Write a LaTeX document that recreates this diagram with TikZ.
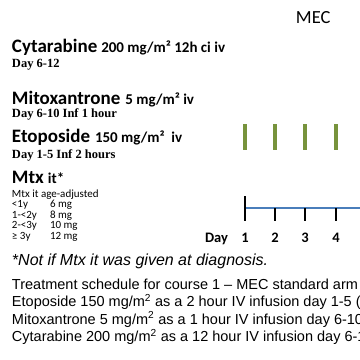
\documentclass[tikz,border=0pt]{standalone}
\usepackage{fontspec}
\setmainfont{Carlito}
\newfontfamily\timesf{Liberation Serif}
\newfontfamily\arialf{Liberation Sans}
\begin{document}
\begin{tikzpicture}[x=1pt,y=-1pt,
  every node/.style={inner sep=0pt,outer sep=0pt},
  drug/.style={anchor=base west,font=\fontsize{19}{21}\selectfont\bfseries},
  dose/.style={anchor=base west,font=\fontsize{15}{17}\selectfont\bfseries},
  dayline/.style={anchor=base west,font=\fontsize{12.5}{14}\timesf\bfseries},
  small/.style={anchor=base west,font=\fontsize{11}{12}\selectfont},
  daylab/.style={anchor=base,font=\fontsize{14.5}{16}\selectfont\bfseries},
  body/.style={anchor=base west,font=\fontsize{14.5}{17}\arialf},
  bar/.style={draw=etogreen,line width=4pt},
  tick/.style={draw=black,line width=1.6pt},
  axis/.style={draw=axisblue,line width=1.8pt}]
\definecolor{etogreen}{HTML}{77933C}
\definecolor{axisblue}{HTML}{4A7EBB}
\useasboundingbox (0,0) rectangle (360,360);
\clip (0,0) rectangle (360,360);
\node[anchor=base west,font=\fontsize{18.5}{20}\selectfont] (mec) at (296,23) {MEC};
\node[drug] (cyt) at (12,52) {Cytarabine};
\node[dose] (cytd) at ([xshift=4pt]cyt.base east) {200 mg/m² 12h ci iv};
\node[dayline] (cytday) at (12,67) {Day 6-12};
\node[drug] (mit) at (12,104.5) {Mitoxantrone};
\node[dose] (mitd) at ([xshift=5pt]mit.base east) {5 mg/m² iv};
\node[dayline] (mitday) at (12,117.5) {Day 6-10 Inf 1 hour};
\node[drug] (eto) at (12,142.5) {Etoposide};
\node[dose] (etod) at ([xshift=5pt]eto.base east) {150 mg/m²\ \ iv};
\node[dayline] (etoday) at (12,158) {Day 1-5 Inf 2 hours};
\node[drug] (mtx) at (12,183.5) {Mtx};
\node[dose] (mtxd) at ([xshift=4pt]mtx.base east) {it*};
\node[small] (age) at (12,197) {Mtx it age-adjusted};
\node[small] (a1) at (12,207.5) {<1y};
\node[small] (b1) at (50,207.5) {6 mg};
\node[small] (a2) at (12,218) {1-<2y};
\node[small] (b2) at (50,218) {8 mg};
\node[small] (a3) at (12,228.5) {2-<3y};
\node[small] (b3) at (50,228.5) {10 mg};
\node[small] (a4) at (12,239) {≥ 3y};
\node[small] (b4) at (50,239) {12 mg};
% green bars
\foreach \x/\n in {245/1,275/2,305/3,336/4}{
  \coordinate (gt\n) at (\x,124);
  \coordinate (gb\n) at (\x,150);
  \draw[bar] (gt\n) -- (gb\n);
}
% axis
\coordinate (ax0) at (245,208);
\coordinate (ax1) at (362,208);
\draw[axis] (ax0) -- (ax1);
\coordinate (t1a) at (245,196);
\coordinate (t1b) at (245,221);
\draw[tick] (t1a) -- (t1b);
\foreach \x/\n in {275/2,305/3,336/4}{
  \coordinate (ta\n) at (\x,208);
  \coordinate (tb\n) at (\x,221);
  \draw[tick] (ta\n) -- (tb\n);
}
\node[daylab,anchor=base east] (dayw) at (228,242) {Day};
\node[daylab] (d1) at (245,242) {1};
\node[daylab] (d2) at (275,242) {2};
\node[daylab] (d3) at (305,242) {3};
\node[daylab] (d4) at (336,242) {4};
\node[anchor=base west,font=\fontsize{16}{18}\arialf\itshape] (foot) at (12,265) {*Not if Mtx it was given at diagnosis.};
\node[body] (l1) at (12,289) {Treatment schedule for course 1 – MEC standard arm};
\node[body] (l2) at (12,306.5) {Etoposide 150 mg/m\textsuperscript{2} as a 2 hour IV infusion day 1-5 (};
\node[body] (l3) at (12,324) {Mitoxantrone 5 mg/m\textsuperscript{2} as a 1 hour IV infusion day 6-10 (};
\node[body] (l4) at (12,341.5) {Cytarabine 200 mg/m\textsuperscript{2} as a 12 hour IV infusion day 6-12};
\end{tikzpicture}
\end{document}
